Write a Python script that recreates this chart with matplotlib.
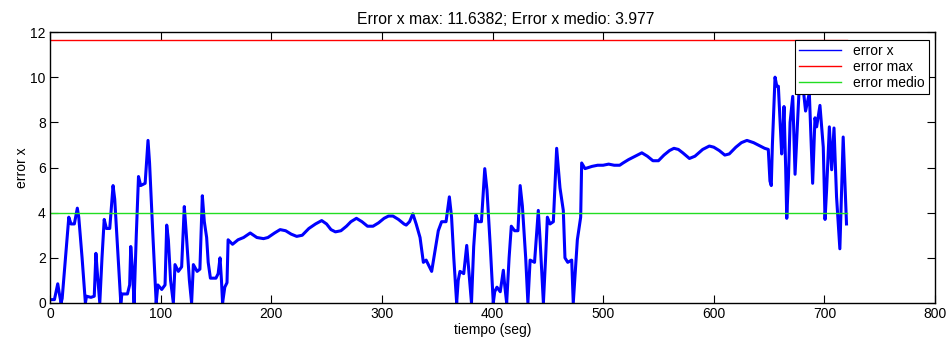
import matplotlib
matplotlib.use("Agg")
import matplotlib.pyplot as plt

# ---- data ----
t = [0, 4, 7, 8.5, 10, 11, 14, 17, 19, 22, 24.7, 26, 29, 32, 33, 37, 40, 41.5, 43, 45,
     47, 49, 51, 54, 57, 58.5, 61, 64, 65, 70, 72, 73, 74.5, 76, 78, 80, 82, 86, 88.6, 90,
     93, 96, 97.5, 101, 104, 105.5, 107, 109, 111.5, 113, 116, 119, 121.4, 123, 126, 128,
     129.6, 133, 135.5, 137.7, 139.5, 141.6, 143, 145, 150, 152, 153.7, 155, 156, 158, 160,
     161, 165, 170, 175, 181, 187, 193, 197, 203, 208, 213, 218, 223, 228, 234, 240, 245.6,
     250, 254, 258, 263, 268, 272, 277, 282, 287, 292, 297, 302, 306, 310, 315, 320, 322,
     325, 328, 331, 334.5, 337.5, 340, 343, 345, 348, 351, 354, 358, 361, 363, 365, 367.6,
     369, 370.6, 374, 376.7, 378.5, 381, 383, 385, 387, 390, 393, 395, 398, 400.7, 402, 404,
     407, 409.8, 411, 412.8, 415, 417, 420, 423, 425, 427, 430, 432, 434, 438, 441.4, 443,
     446, 448, 449.6, 452, 455, 458, 459.5, 461, 464, 465.5, 468, 471.6, 473, 475, 476.7,
     479.7, 480.6, 483.6, 490, 495, 500, 505, 510, 515, 518, 523, 529, 535, 540, 545, 550,
     555, 560, 564, 568, 572, 578, 583, 590, 596, 600, 605, 610, 614, 620, 625, 630, 636,
     642, 646, 649.3, 650.8, 652, 653, 655.4, 657, 658.4, 660, 661.4, 662.5, 663.5, 665, 666,
     667.5, 669, 671.4, 673.5, 675.5, 677.3, 680, 683, 686.4, 689.4, 691.5, 693, 696, 699,
     700.6, 702, 704.5, 706.6, 708.7, 711, 714, 717, 718.6, 720]
err_x = [0.15, 0.15, 0.85, 0.4, 0.0, 0.2, 2.0, 3.8, 3.5, 3.5, 4.2, 3.8, 2.0, 0.0, 0.3, 0.25, 0.3, 2.2, 1.2, 0.0,
         2.0, 3.7, 3.3, 3.3, 5.2, 4.6, 2.5, 0.0, 0.4, 0.4, 0.8, 2.5, 1.5, 0.0, 3.0, 5.6, 5.2, 5.3, 7.2, 6.2,
         3.0, 0.0, 0.8, 0.6, 0.8, 3.45, 2.8, 1.0, 0.0, 1.7, 1.4, 1.6, 4.27, 3.2, 1.0, 0.0,
         1.7, 1.4, 1.5, 4.75, 3.6, 2.9, 1.8, 1.1, 1.1, 1.3, 2.0, 1.0, 0.0, 0.7, 0.9,
         2.8, 2.6, 2.8, 2.9, 3.1, 2.9, 2.85, 2.9, 3.1, 3.25, 3.2, 3.05, 2.95, 3.0, 3.3, 3.5, 3.65,
         3.5, 3.25, 3.15, 3.2, 3.4, 3.6, 3.75, 3.6, 3.4, 3.4, 3.55, 3.75, 3.85, 3.85, 3.7, 3.5, 3.45,
         3.6, 3.95, 3.5, 2.9, 1.8, 1.9, 1.6, 1.4, 2.3, 3.2, 3.6, 3.6, 4.7, 3.8, 2.0, 0.0,
         1.0, 1.4, 1.3, 2.55, 1.5, 0.0, 2.5, 3.9, 3.6, 3.6, 5.95, 5.0, 2.5, 0.0, 0.5, 0.7,
         0.5, 1.45, 0.8, 0.0, 2.0, 3.4, 3.2, 3.2, 5.2, 4.3, 2.0, 0.0, 1.9, 1.8, 4.1, 2.8,
         0.0, 2.0, 3.8, 3.5, 3.6, 6.85, 6.0, 5.1, 4.1, 2.0, 1.8, 1.9, 0.0, 1.5, 2.8,
         3.8, 6.2, 5.95, 6.05, 6.1, 6.1, 6.15, 6.1, 6.1, 6.2, 6.35, 6.5, 6.65, 6.5, 6.3, 6.3,
         6.55, 6.75, 6.85, 6.8, 6.65, 6.4, 6.5, 6.8, 6.95, 6.9, 6.75, 6.55, 6.6, 6.9, 7.1, 7.2, 7.1,
         6.95, 6.85, 6.8, 5.4, 5.2, 7.0, 10.0, 9.6, 9.6, 8.0, 6.6, 7.5, 8.7, 6.0, 3.75,
         5.5, 8.0, 9.15, 5.7, 7.8, 9.6, 9.9, 8.5, 9.3, 5.3, 8.2, 7.8, 8.75, 6.9,
         3.7, 5.0, 7.8, 5.9, 7.75, 4.7, 2.4, 7.35, 5.3, 3.5]
err_max = 11.6382
err_medio = 3.977
t_end = 720

title_txt = "Error x max: 11.6382; Error x medio: 3.977"
xlabel_txt = "tiempo (seg)"
ylabel_txt = "error x"
legend_labels = ["error x", "error max", "error medio"]
xticks = list(range(0, 801, 100))
yticks = list(range(0, 13, 2))

plt.rcParams['font.family'] = ['Liberation Sans', 'DejaVu Sans']
plt.rcParams['font.size'] = 10

fig = plt.figure(figsize=(9.46, 3.44), dpi=100)
ax = fig.add_axes([50/946, 41/344, 885/946, 271/344])

ax.plot(t, err_x, color='#0000ff', lw=2.2, label=legend_labels[0])
ax.plot([0, t_end], [err_max, err_max], color='#ff0000', lw=1.0, label=legend_labels[1])
ax.plot([0, t_end], [err_medio, err_medio], color='#22dd22', lw=1.0, label=legend_labels[2])

ax.set_xlim(0, 800)
ax.set_ylim(0, 12)
ax.set_xticks(xticks)
ax.set_yticks(yticks)
ax.tick_params(direction='in', length=6, width=0.8, top=True, right=True, labelsize=10, pad=3)
for s in ax.spines.values():
    s.set_linewidth(1.0)
    s.set_color('black')

ax.set_title(title_txt, fontsize=11.3, pad=6, x=0.515)
ax.set_xlabel(xlabel_txt, fontsize=10, labelpad=1)
ax.set_ylabel(ylabel_txt, fontsize=10, labelpad=1)

leg = ax.legend(loc='upper right', bbox_to_anchor=(0.993, 0.972), borderaxespad=0,
                fancybox=False, framealpha=1, edgecolor='black', fontsize=10,
                handlelength=3.0, labelspacing=0.15, borderpad=0.3, handletextpad=0.9)
leg.get_frame().set_linewidth(0.8)
leg.get_lines()[0].set_linewidth(1.0)

fig.savefig("out.png", dpi=100)
